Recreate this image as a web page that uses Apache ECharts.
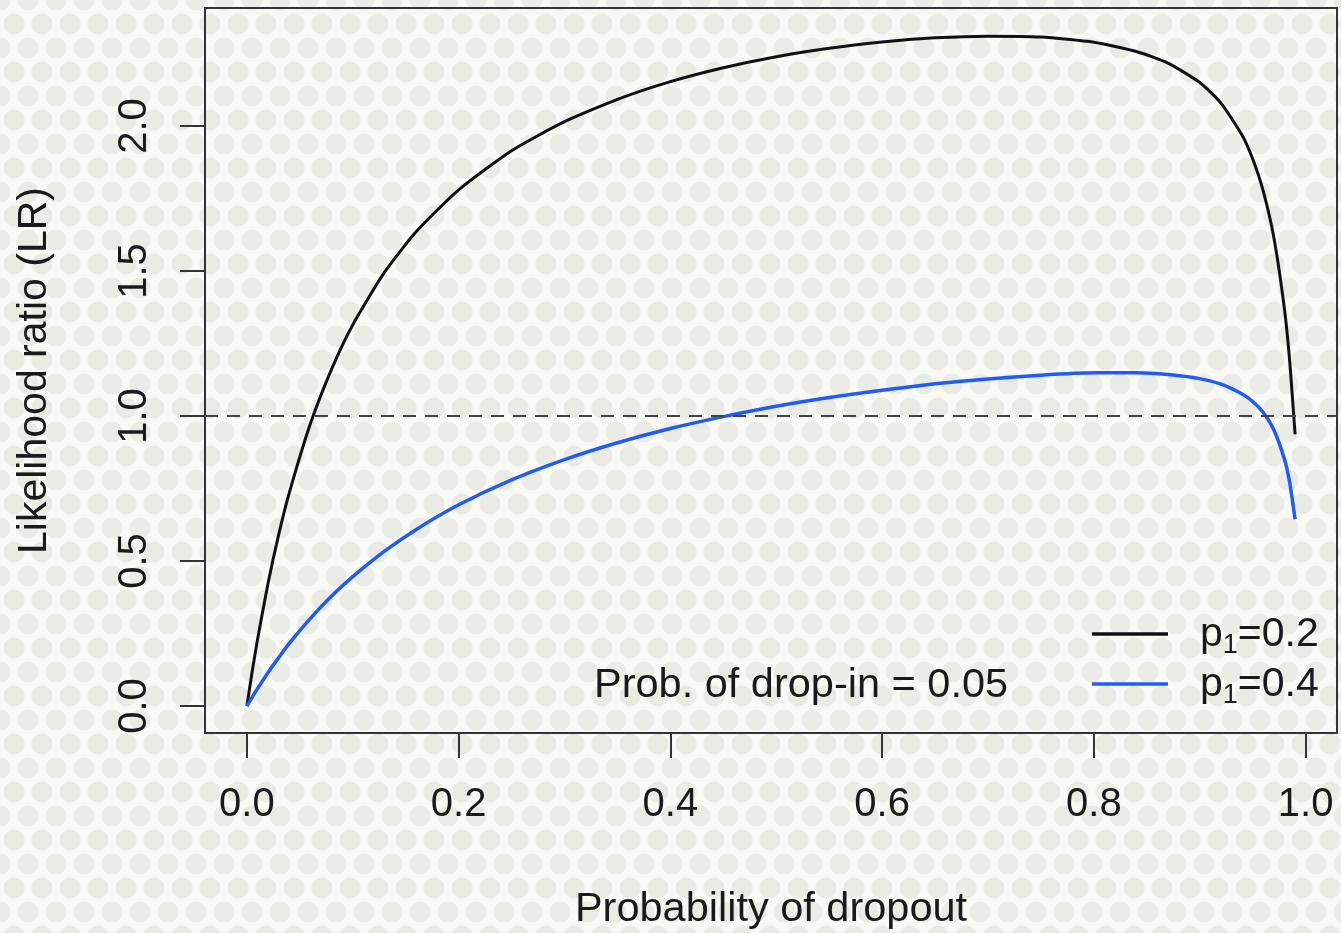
<!DOCTYPE html>
<html>
<head>
<meta charset="utf-8">
<title>Likelihood ratio vs probability of dropout</title>
<script src="https://cdn.jsdelivr.net/npm/echarts@6/dist/echarts.min.js"></script>
<style>
  html, body { margin: 0; padding: 0; background: #f1f1ed; }
  #chart { width: 1341px; height: 933px; }
</style>
</head>
<body>
<div id="chart"></div>
<script>
// values
const dropout = [0, 0.005, 0.01, 0.02, 0.03, 0.04, 0.06, 0.08, 0.10, 0.13, 0.16, 0.20, 0.25, 0.30, 0.35,
  0.40, 0.45, 0.50, 0.55, 0.60, 0.65, 0.70, 0.75, 0.80, 0.84, 0.87, 0.90, 0.92, 0.94, 0.95, 0.96,
  0.97, 0.98, 0.985, 0.99];
const lrP02 = [0, 0.120, 0.229, 0.424, 0.591, 0.735, 0.974, 1.162, 1.315, 1.496, 1.636, 1.780, 1.915,
  2.015, 2.092, 2.153, 2.201, 2.239, 2.268, 2.290, 2.304, 2.310, 2.307, 2.289, 2.257, 2.217, 2.150,
  2.079, 1.968, 1.886, 1.775, 1.615, 1.368, 1.186, 0.937];
const lrP04 = [0, 0.031, 0.060, 0.116, 0.167, 0.216, 0.302, 0.379, 0.446, 0.534, 0.609, 0.694, 0.780,
  0.850, 0.908, 0.957, 0.998, 1.034, 1.064, 1.089, 1.111, 1.128, 1.141, 1.149, 1.149, 1.143, 1.129,
  1.110, 1.076, 1.050, 1.012, 0.952, 0.851, 0.769, 0.644];
const seriesNames = ['p1=0.2', 'p1=0.4'];
const xTicks = [0, 0.2, 0.4, 0.6, 0.8, 1.0];
const yTicks = [0, 0.5, 1.0, 1.5, 2.0];
const refLine = 1;
const dropIn = 0.05;

const FONT = '"Liberation Sans", Arial, Helvetica, sans-serif';
const INK = '#1a1a1a';

function dotPattern() {
  const c = document.createElement('canvas');
  c.width = 28; c.height = 48;
  const g = c.getContext('2d');
  g.fillStyle = '#f8f8f5';
  g.fillRect(0, 0, 28, 48);
  g.fillStyle = '#ebebe5';
  [[0, 0], [28, 0], [0, 48], [28, 48], [14, 24]].forEach(([x, y]) => {
    g.beginPath();
    g.arc(x, y, 10.5, 0, Math.PI * 2);
    g.fill();
  });
  return c;
}

function pairs(ys) {
  return dropout.map((d, i) => [d, ys[i]]);
}

const chart = echarts.init(document.getElementById('chart'));

const option = {
  animation: false,
  backgroundColor: { image: dotPattern(), repeat: 'repeat' },
  textStyle: { fontFamily: FONT },
  grid: {
    left: 205, right: 4, top: 8, bottom: 200,
    outerBoundsMode: 'none',
    containLabel: false,
    show: true, borderColor: '#333', borderWidth: 2,
    backgroundColor: 'transparent'
  },
  xAxis: {
    type: 'value',
    min: -0.0396, max: 1.0296,
    name: 'Probability of dropout',
    nameLocation: 'middle',
    nameGap: 156,
    nameTextStyle: { fontSize: 41.5, color: INK, fontFamily: FONT },
    axisLine: { show: false, onZero: false },
    splitLine: { show: false },
    axisTick: {
      show: true, inside: false, length: 25,
      customValues: xTicks,
      lineStyle: { color: '#333', width: 2 }
    },
    axisLabel: {
      customValues: xTicks,
      formatter: v => v.toFixed(1),
      fontSize: 40, color: INK, fontFamily: FONT,
      margin: 52
    }
  },
  yAxis: {
    type: 'value',
    min: -0.093, max: 2.407,
    name: 'Likelihood ratio (LR)',
    nameLocation: 'middle',
    nameGap: 150,
    nameTextStyle: { fontSize: 41, color: INK, fontFamily: FONT },
    axisLine: { show: false, onZero: false },
    splitLine: { show: false },
    axisTick: {
      show: true, inside: false, length: 25,
      customValues: yTicks,
      lineStyle: { color: '#333', width: 2 }
    },
    axisLabel: {
      customValues: yTicks,
      formatter: v => v.toFixed(1),
      rotate: 90,
      fontSize: 40, color: INK, fontFamily: FONT,
      margin: 50
    }
  },
  legend: {
    orient: 'vertical',
    left: 1087, top: 609,
    icon: 'rect',
    itemWidth: 76, itemHeight: 3.5,
    itemGap: 5,
    selectedMode: false,
    data: seriesNames,
    formatter: name => '{a|p}{s|1}{a|' + name.slice(2) + '}',
    textStyle: {
      padding: [0, 0, 0, 27],
      rich: {
        a: { fontSize: 41, lineHeight: 40, color: INK, fontFamily: FONT, verticalAlign: 'top' },
        s: { fontSize: 27, lineHeight: 27, color: INK, fontFamily: FONT, verticalAlign: 'top', padding: [18, 0, 0, 0] }
      }
    }
  },
  graphic: [{
    type: 'text',
    x: 594, y: 686,
    silent: true,
    style: {
      text: 'Prob. of drop-in = ' + dropIn.toFixed(2),
      font: '41.5px ' + FONT,
      fill: INK,
      align: 'left',
      verticalAlign: 'middle'
    }
  }],
  series: [
    {
      name: seriesNames[0],
      type: 'line',
      data: pairs(lrP02),
      symbol: 'none',
      smooth: 0.2,
      silent: true,
      lineStyle: { color: '#111', width: 3 },
      itemStyle: { color: '#111' },
      markLine: {
        silent: true,
        symbol: 'none',
        label: { show: false },
        lineStyle: { color: '#444', width: 2, type: [13, 9] },
        data: [{ yAxis: refLine }]
      }
    },
    {
      name: seriesNames[1],
      type: 'line',
      data: pairs(lrP04),
      symbol: 'none',
      smooth: 0.2,
      silent: true,
      lineStyle: { color: '#1f5bff', width: 3.5 },
      itemStyle: { color: '#1f5bff' }
    }
  ]
};

chart.setOption(option);
</script>
</body>
</html>
